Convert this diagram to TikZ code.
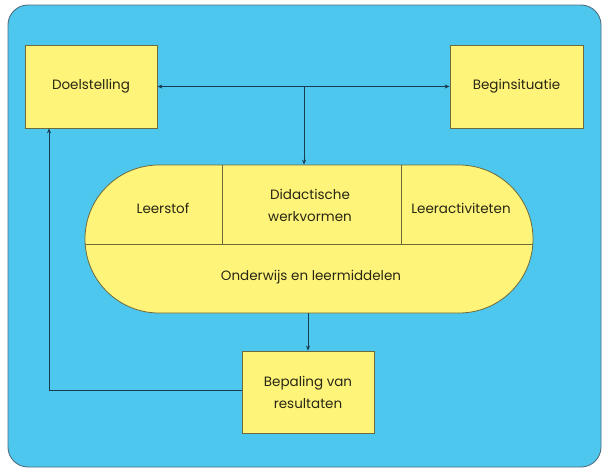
\documentclass[tikz,border=0pt]{standalone}
\usepackage{fontspec}
\setmainfont{Poppins}
\usetikzlibrary{arrows.meta}
\definecolor{panelblue}{RGB}{77,199,238}
\definecolor{boxyellow}{RGB}{255,244,122}
\definecolor{boxedge}{RGB}{110,106,60}
\definecolor{linecol}{RGB}{25,60,80}
\definecolor{paneledge}{RGB}{80,110,125}
\definecolor{txt}{RGB}{40,38,20}
\begin{document}
\begin{tikzpicture}[x=1pt,y=-1pt,
  txtfont/.style={font=\fontsize{13.5}{22}\selectfont},
  box/.style={draw=boxedge,fill=boxyellow,line width=0.8pt,minimum width=132pt,minimum height=83pt,inner sep=0pt,text=txt,txtfont,align=center},
  lbl/.style={text=txt,txtfont,align=center,inner sep=0pt},
  conn/.style={draw=linecol,line width=0.8pt},
  arr/.style={conn,-{Stealth[length=5pt,width=4pt]}},
  dblarr/.style={conn,{Stealth[length=5pt,width=4pt]}-{Stealth[length=5pt,width=4pt]}},
  divider/.style={draw=boxedge,line width=0.8pt},
]
\useasboundingbox (0,0) rectangle (607,474);
\fill[white] (0,0) rectangle (607,474);
\draw[fill=panelblue,draw=paneledge,line width=0.9pt,rounded corners=20pt] (8,5) rectangle (601,467);

% boxes
\node[box] (doel) at (91,86.5) {Doelstelling};
\node[box,minimum width=133pt] (begin) at (516.5,86.5) {Beginsituatie};
\node[box,minimum height=82pt] (bep) at (308,392) {Bepaling van\\resultaten};

% pill
\node[draw=boxedge,fill=boxyellow,line width=0.8pt,rounded corners=74pt,minimum width=448pt,minimum height=148pt,inner sep=0pt] (pill) at (309,239) {};
\draw[divider] (85.2,244) -- (532.8,244);
\draw[divider] (222,165) -- (222,244);
\draw[divider] (401,165) -- (401,244);

\node[lbl] (leerstof) at (163,208) {Leerstof};
\node[lbl] (didact) at (310,205) {Didactische\\werkvormen};
\node[lbl] (leeract) at (461,208) {Leeractiviteten};
\node[lbl] (onderwijs) at (311,277) {Onderwijs en leermiddelen};

% connectors
\draw[dblarr] (doel.east) -- (begin.west);
\coordinate (junction) at (304,86.5);
\draw[arr] (junction) -- (junction |- pill.north);
\draw[arr] (pill.south -| bep.north) -- (bep.north);
\coordinate (fb) at (49,390);
\draw[arr] (bep.west |- fb) -- (fb) -- (fb |- doel.south);
\end{tikzpicture}
\end{document}
